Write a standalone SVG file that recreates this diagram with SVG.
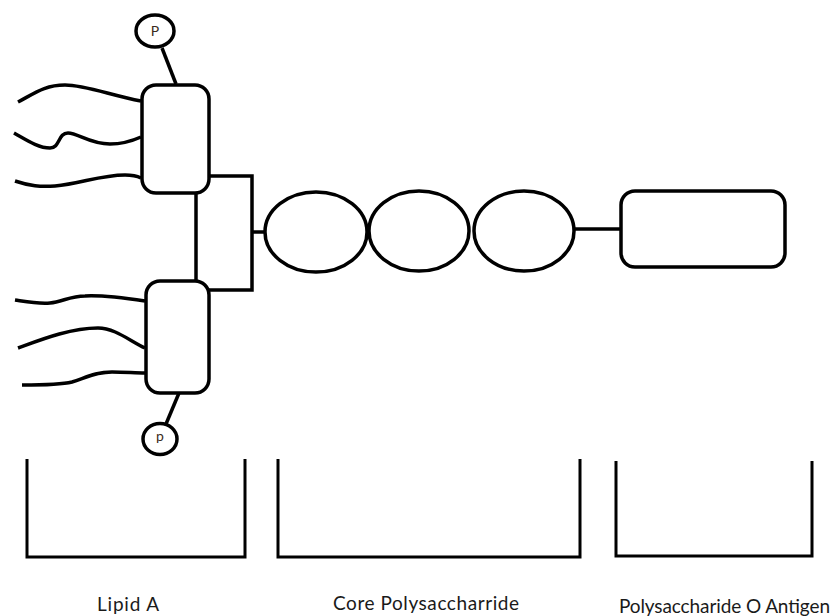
<svg xmlns="http://www.w3.org/2000/svg" width="831" height="616" viewBox="0 0 831 616">
<style>
.s{fill:none;stroke:#000;stroke-width:3.500}
.t{stroke-width:3}
.n{fill:#fff;stroke:#000;stroke-width:3.500}
.l{font-family:"Lato","Liberation Sans",sans-serif;font-size:19px;fill:#1a1a1a}
.p{font-family:"Lato","Liberation Sans",sans-serif;font-size:14px;fill:#3a2a20;text-anchor:middle}
</style>
<rect width="831" height="616" fill="#fff"/>
<g id="connectors">
<path class="s" d="M162 48L176 84"/>
<path class="s" d="M179 393L166 424"/>
<path class="s" d="M196 193V281"/>
<path class="s" d="M209 176H252V290H209"/>
<path class="s" d="M252 232H265"/>
<path class="s" d="M575 229H621"/>
<path class="s" d="M18 102C35 93 45 85 65 85C85 85 110 95 141 101"/>
<path class="s" d="M14 133C25 139 38 148 50 148C60 148 58 133 68 133C78 133 90 144 110 144C122 144 132 141 141 137"/>
<path class="s" d="M15 181C30 186 40 187 55 186C80 184 100 175 125 175C132 175 137 176 141 178"/>
<path class="s" d="M15 300C28 302 38 304 50 303C62 302 70 296 85 296C105 295 125 298 145 301"/>
<path class="s" d="M18 348C40 340 70 328 98 328C115 328 130 341 145 348"/>
<path class="s" d="M22 385C40 385 60 385 72 382C85 378 95 372 112 372C125 372 135 373 145 373"/>
</g>
<g id="phosphate-top"><ellipse class="n" cx="155" cy="31" rx="19" ry="16"/><text class="p" x="155" y="36">P</text></g>
<g id="phosphate-bottom"><ellipse class="n" cx="160" cy="439" rx="17" ry="15.500"/><text class="p" x="160" y="441">p</text></g>
<g id="lipid-upper"><rect class="n" x="142" y="85" width="67" height="108" rx="14"/></g>
<g id="lipid-lower"><rect class="n" x="146" y="281" width="63" height="112" rx="14"/></g>
<g id="core-1"><ellipse class="s" cx="316" cy="232" rx="51" ry="40"/></g>
<g id="core-2"><ellipse class="s" cx="419" cy="231" rx="50" ry="40"/></g>
<g id="core-3"><ellipse class="s" cx="524" cy="231" rx="50" ry="40"/></g>
<g id="o-antigen"><rect class="s" x="621" y="191" width="164" height="76" rx="14"/></g>
<g id="bracket-lipid"><path class="s t" d="M27 459V557H245V459"/><text class="l" x="97" y="611" textLength="62">Lipid A</text></g>
<g id="bracket-core"><path class="s t" d="M278 459V557H580V459"/><text class="l" x="333" y="610" textLength="186">Core Polysaccharride</text></g>
<g id="bracket-antigen"><path class="s t" d="M616 461V556H812V461"/><text class="l" x="619" y="613" textLength="211">Polysaccharide O Antigen</text></g>
</svg>
